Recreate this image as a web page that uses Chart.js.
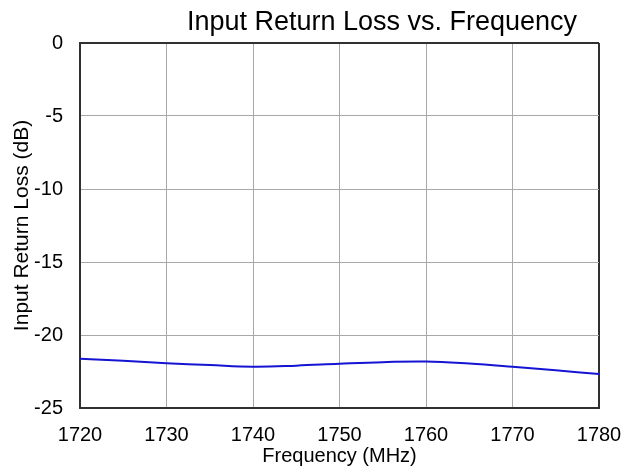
<!DOCTYPE html>
<html lang="en">
<head>
  <meta charset="UTF-8">
  <title>Input Return Loss vs. Frequency</title>
  <script src="https://cdn.jsdelivr.net/npm/chart.js"></script>
  <style>
    body { margin: 0; background: #fff; }
  </style>
</head>
<body>
<canvas id="chart" width="634" height="474"></canvas>

<script>
// donnees
const freqs = [1720, 1725, 1730, 1735, 1740, 1745, 1750, 1755, 1760, 1765, 1770, 1775, 1780];
const returnLoss = [-21.62, -21.77, -21.93, -22.06, -22.17, -22.1, -21.97, -21.86, -21.81, -21.95, -22.17, -22.42, -22.68];
const xTicks = [1720, 1730, 1740, 1750, 1760, 1770, 1780];
const yTicks = [0, -5, -10, -15, -20, -25];

const chartTitle = 'Input Return Loss vs. Frequency';
const font = 'Liberation Sans, Arial, sans-serif';

// titre dessine a la main (decale a droite comme l'original)
const titlePlugin = {
  id: 'titleAt',
  afterDraw(chart) {
    const c = chart.ctx;
    c.save();
    c.font = '27px ' + font;
    c.fillStyle = '#000';
    c.textAlign = 'center';
    c.textBaseline = 'alphabetic';
    c.fillText(chartTitle, 382, 30);
    c.restore();
  }
};

const edge = '#303030';
const grid = '#a8a8a8';

new Chart(document.getElementById('chart'), {
  type: 'line',
  data: {
    datasets: [{
      data: freqs.map((f, i) => ({ x: f, y: returnLoss[i] })),
      borderColor: '#1414d2',
      borderWidth: 2,
      pointRadius: 0,
      tension: 0.4,
      fill: false
    }]
  },
  options: {
    responsive: false,
    animation: false,
    layout: { padding: { top: 43, right: 35, left: 0, bottom: 0 } },
    plugins: {
      legend: { display: false },
      tooltip: { enabled: false }
    },
    scales: {
      x: {
        type: 'linear',
        min: 1720,
        max: 1780,
        afterBuildTicks: s => { s.ticks = xTicks.map(v => ({ value: v })); },
        afterFit: s => { s.height = 66; s.paddingLeft = 0; s.paddingRight = 0; },
        ticks: { color: '#000', font: { family: font, size: 20 }, padding: 15, maxRotation: 0, callback: v => String(v) },
        grid: {
          drawTicks: false,
          color: c => c.tick && c.tick.value === 1780 ? edge : grid,
          lineWidth: c => c.tick && c.tick.value === 1780 ? 2 : 1
        },
        border: { color: edge, width: 2 },
        title: { display: true, text: 'Frequency (MHz)', color: '#000', font: { family: font, size: 20 }, padding: { top: 0, bottom: 6 } }
      },
      y: {
        min: -25,
        max: 0,
        afterBuildTicks: s => { s.ticks = yTicks.map(v => ({ value: v })); },
        afterFit: s => { s.width = 80; },
        ticks: { color: '#000', font: { family: font, size: 20 }, padding: 17, callback: v => String(v) },
        grid: {
          drawTicks: false,
          color: c => c.tick && c.tick.value === 0 ? edge : grid,
          lineWidth: c => c.tick && c.tick.value === 0 ? 2 : 1
        },
        border: { color: edge, width: 2 },
        title: { display: true, text: 'Input Return Loss (dB)', color: '#000', font: { family: font, size: 21 }, padding: { top: 10, bottom: 0 } }
      }
    }
  },
  plugins: [titlePlugin]
});
</script>
</body>
</html>
